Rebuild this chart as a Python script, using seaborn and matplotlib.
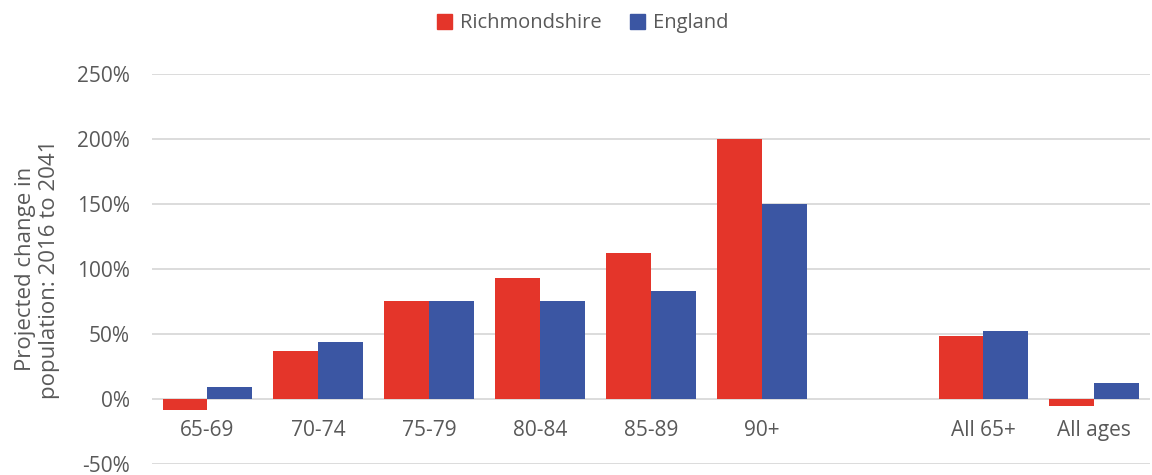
import matplotlib
matplotlib.use('Agg')

import matplotlib.pyplot as plt
import seaborn as sns
import pandas as pd
import numpy as np
from matplotlib.ticker import FuncFormatter

categories = ['65-69', '70-74', '75-79', '80-84', '85-89', '90+', ' ', 'All 65+', 'All ages']
richmondshire = [-9, 37, 75, 93, 112, 200, np.nan, 48, -6]
england = [9, 44, 75, 75, 83, 150, np.nan, 52, 12]
series = ['Richmondshire', 'England']
colors = ['#E4352A', '#3B56A3']

df = pd.DataFrame({
    'category': categories * 2,
    'change': richmondshire + england,
    'area': [series[0]] * len(categories) + [series[1]] * len(categories),
})

sns.set_theme(style='white')
plt.rcParams['font.family'] = ['Open Sans', 'DejaVu Sans']
text_color = '#595959'

fig = plt.figure(figsize=(11.52, 4.75), dpi=100)
ax = fig.add_axes([0.132, 0.024, 0.866, 0.82])

sns.barplot(data=df, x='category', y='change', hue='area', order=categories,
            hue_order=series, palette=colors, width=0.81, saturation=1,
            linewidth=0, ax=ax, legend=False)

ax.set_ylim(-50, 250)
ax.set_yticks(range(-50, 251, 50))
ax.yaxis.set_major_formatter(FuncFormatter(lambda v, p: f'{int(v)}%'))
ax.grid(axis='y', color='#D9D9D9', linewidth=1.3)
ax.set_axisbelow(True)
for s in ax.spines.values():
    s.set_visible(False)
ax.spines['bottom'].set_position(('data', 0))
ax.tick_params(axis='x', length=0, pad=15, labelsize=15, labelcolor=text_color)
ax.tick_params(axis='y', length=0, pad=16, labelsize=15, labelcolor=text_color)
ax.set_xlabel('')
ax.set_ylabel('Projected change in\npopulation: 2016 to 2041', fontsize=16,
              color=text_color, labelpad=12, linespacing=1.2)

handles = [plt.Rectangle((0, 0), 1, 1, color=c) for c in colors]
fig.legend(handles, series, loc='upper center', bbox_to_anchor=(0.506, 1.01), ncol=2,
           frameon=False, fontsize=14.5, handlelength=0.75, handleheight=0.75,
           handletextpad=0.4, columnspacing=1.4, labelcolor=text_color)

fig.savefig('out.png', dpi=100)
